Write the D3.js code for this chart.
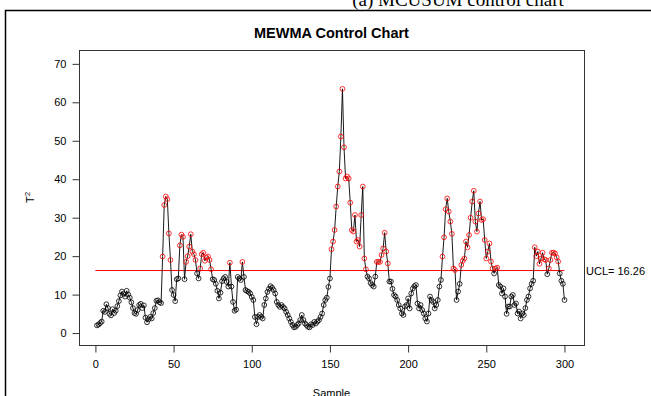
<!DOCTYPE html>
<html>
<head>
<meta charset="utf-8">
<script src="https://cdn.jsdelivr.net/npm/d3@7"></script>
<style>
body { margin: 0; background: #fff; }
text { font-family: "Liberation Sans", Arial, sans-serif; }
</style>
</head>
<body>
<script>
var width = 651,
    height = 396;

// T^2 statistic per sample (1..300)
var t2 = [
  2.0, 2.2, 2.6, 3.0, 5.8, 5.5, 7.5, 6.5, 5.0, 4.6,
  6.2, 5.2, 5.8, 7.0, 8.3, 9.8, 10.8, 10.2, 9.5, 11.0,
  10.0, 9.2, 8.0, 6.5, 5.2, 5.0, 6.0, 7.3, 7.6, 6.5,
  7.2, 4.0, 2.8, 3.6, 4.2, 3.8, 5.2, 6.5, 8.4, 8.5,
  8.0, 7.8, 19.9, 33.3, 35.5, 34.8, 25.9, 19.0, 11.2, 9.9,
  8.3, 14.0, 14.2, 22.8, 25.6, 25.0, 14.0, 18.5, 20.0, 22.5,
  25.7, 21.2, 20.5, 19.0, 15.5, 14.2, 16.8, 20.5, 20.9, 18.8,
  19.6, 19.9, 19.0, 16.6, 14.0, 13.8, 12.8, 11.0, 9.0, 10.5,
  13.5, 14.2, 14.6, 13.3, 12.1, 18.3, 12.1, 8.1, 5.8, 6.1,
  14.6, 14.2, 13.8, 18.5, 14.6, 11.2, 10.9, 10.7, 10.3, 9.4,
  8.6, 4.2, 2.3, 4.2, 4.7, 4.2, 3.8, 7.3, 9.0, 10.7,
  11.5, 12.2, 11.8, 11.2, 10.3, 8.1, 7.3, 6.8, 7.3, 6.8,
  6.4, 5.5, 4.7, 3.8, 2.9, 2.1, 1.5, 1.6, 2.1, 2.5,
  3.4, 4.7, 3.4, 2.5, 2.1, 1.6, 1.5, 2.3, 2.1, 2.9,
  2.5, 3.0, 3.4, 4.2, 5.1, 7.3, 8.6, 9.2, 12.0, 14.2,
  21.8, 23.8, 26.8, 32.9, 38.1, 42.0, 51.1, 63.5, 48.3, 40.2,
  40.7, 40.2, 33.9, 26.8, 26.4, 30.7, 23.8, 24.2, 22.5, 30.7,
  38.1, 19.4, 16.6, 14.7, 14.2, 13.0, 12.5, 12.1, 14.7, 18.5,
  18.5, 18.5, 20.3, 22.0, 26.1, 21.2, 18.1, 13.4, 13.4, 11.5,
  9.9, 9.5, 8.6, 7.3, 6.4, 5.1, 4.7, 6.9, 7.3, 9.0,
  6.4, 10.3, 11.6, 12.2, 12.5, 7.7, 6.4, 7.3, 6.0, 5.1,
  3.8, 3.0, 5.1, 9.5, 8.6, 8.1, 6.4, 7.3, 8.6, 12.1,
  13.8, 19.9, 24.9, 32.2, 35.0, 31.6, 29.0, 25.8, 16.8, 16.4,
  8.6, 10.8, 12.8, 17.7, 18.8, 19.4, 23.8, 22.3, 25.5, 30.0,
  34.2, 37.0, 29.0, 26.4, 31.1, 34.2, 29.4, 29.6, 24.2, 19.4,
  21.2, 23.3, 18.6, 16.8, 15.5, 16.8, 17.0, 12.5, 12.1, 10.3,
  11.6, 9.5, 5.0, 6.9, 6.9, 9.5, 9.9, 7.3, 7.7, 5.1,
  5.6, 3.8, 5.1, 4.7, 6.5, 8.6, 9.5, 11.6, 12.8, 13.6,
  22.3, 20.0, 21.2, 18.0, 19.4, 20.9, 19.2, 19.0, 15.3, 16.8,
  19.0, 20.9, 20.9, 20.7, 19.7, 18.6, 15.5, 13.6, 12.8, 8.6
];
var ucl = 16.26;
var xTicks = [0, 50, 100, 150, 200, 250, 300];
var yTicks = [0, 10, 20, 30, 40, 50, 60, 70];

var box = { left: 79, right: 584, top: 50, bottom: 345 };

var svg = d3.select("body").append("svg")
    .attr("width", width)
    .attr("height", height);

// outer frame of the figure panel
svg.append("path")
    .attr("d", "M5.5," + height + "V10.5H" + width)
    .attr("fill", "none")
    .attr("stroke", "#000")
    .attr("stroke-width", 1.5);

// caption cut off at the top
svg.append("text")
    .attr("x", 458)
    .attr("y", 6)
    .attr("text-anchor", "middle")
    .style("font-family", "'Liberation Serif', 'DejaVu Serif', serif")
    .style("font-size", "19px")
    .text("(a) MCUSUM control chart");

var x = d3.scaleLinear().domain([-10.5, 312.5]).range([box.left, box.right]);
var y = d3.scaleLinear().domain([-3.1, 73.6]).range([box.bottom, box.top]);

svg.append("text")
    .attr("x", (box.left + box.right) / 2)
    .attr("y", 38)
    .attr("text-anchor", "middle")
    .style("font-size", "14.5px")
    .style("font-weight", "bold")
    .text("MEWMA Control Chart");

// ucl line
svg.append("line")
    .attr("x1", x(0)).attr("x2", x(300))
    .attr("y1", y(ucl)).attr("y2", y(ucl))
    .attr("stroke", "#ff0000")
    .attr("stroke-width", 1);

svg.append("text")
    .attr("x", 586)
    .attr("y", y(ucl) + 4)
    .style("font-size", "11px")
    .text("UCL= " + ucl);

var line = d3.line()
    .x(function (d, i) { return x(i + 1); })
    .y(function (d) { return y(d); });

svg.append("path")
    .attr("d", line(t2))
    .attr("fill", "none")
    .attr("stroke", "#000")
    .attr("stroke-width", 0.9);

svg.selectAll("circle.pt")
    .data(t2)
    .enter().append("circle")
    .attr("class", "pt")
    .attr("cx", function (d, i) { return x(i + 1); })
    .attr("cy", function (d) { return y(d); })
    .attr("r", 2.4)
    .attr("fill", "none")
    .attr("stroke", function (d) { return d > ucl ? "#ff0000" : "#000"; })
    .attr("stroke-width", 0.8);

// plot box
svg.append("rect")
    .attr("x", box.left + 0.5)
    .attr("y", box.top + 0.5)
    .attr("width", box.right - box.left)
    .attr("height", box.bottom - box.top)
    .attr("fill", "none")
    .attr("stroke", "#333")
    .attr("stroke-width", 1);

var xAxis = svg.append("g")
    .attr("transform", "translate(0," + (box.bottom + 0.5) + ")")
    .call(d3.axisBottom(x).tickValues(xTicks).tickSize(7).tickPadding(8).tickSizeOuter(0));
var yAxis = svg.append("g")
    .attr("transform", "translate(" + (box.left + 0.5) + ",0)")
    .call(d3.axisLeft(y).tickValues(yTicks).tickSize(7).tickPadding(6).tickSizeOuter(0));

[xAxis, yAxis].forEach(function (g) {
    g.select(".domain").remove();
    g.selectAll("line").attr("stroke", "#333");
    g.selectAll("text")
        .attr("fill", "#000")
        .style("font-family", "'Liberation Sans', Arial, sans-serif")
        .style("font-size", "11px");
});

svg.append("text")
    .attr("x", (box.left + box.right) / 2)
    .attr("y", 397)
    .attr("text-anchor", "middle")
    .style("font-size", "11px")
    .text("Sample");

var yl = svg.append("text")
    .attr("transform", "translate(34," + ((box.top + box.bottom) / 2) + ") rotate(-90)")
    .attr("text-anchor", "middle")
    .style("font-size", "11px");
yl.append("tspan").text("T");
yl.append("tspan").attr("dy", -4).style("font-size", "8px").text("2");
</script>
</body>
</html>
